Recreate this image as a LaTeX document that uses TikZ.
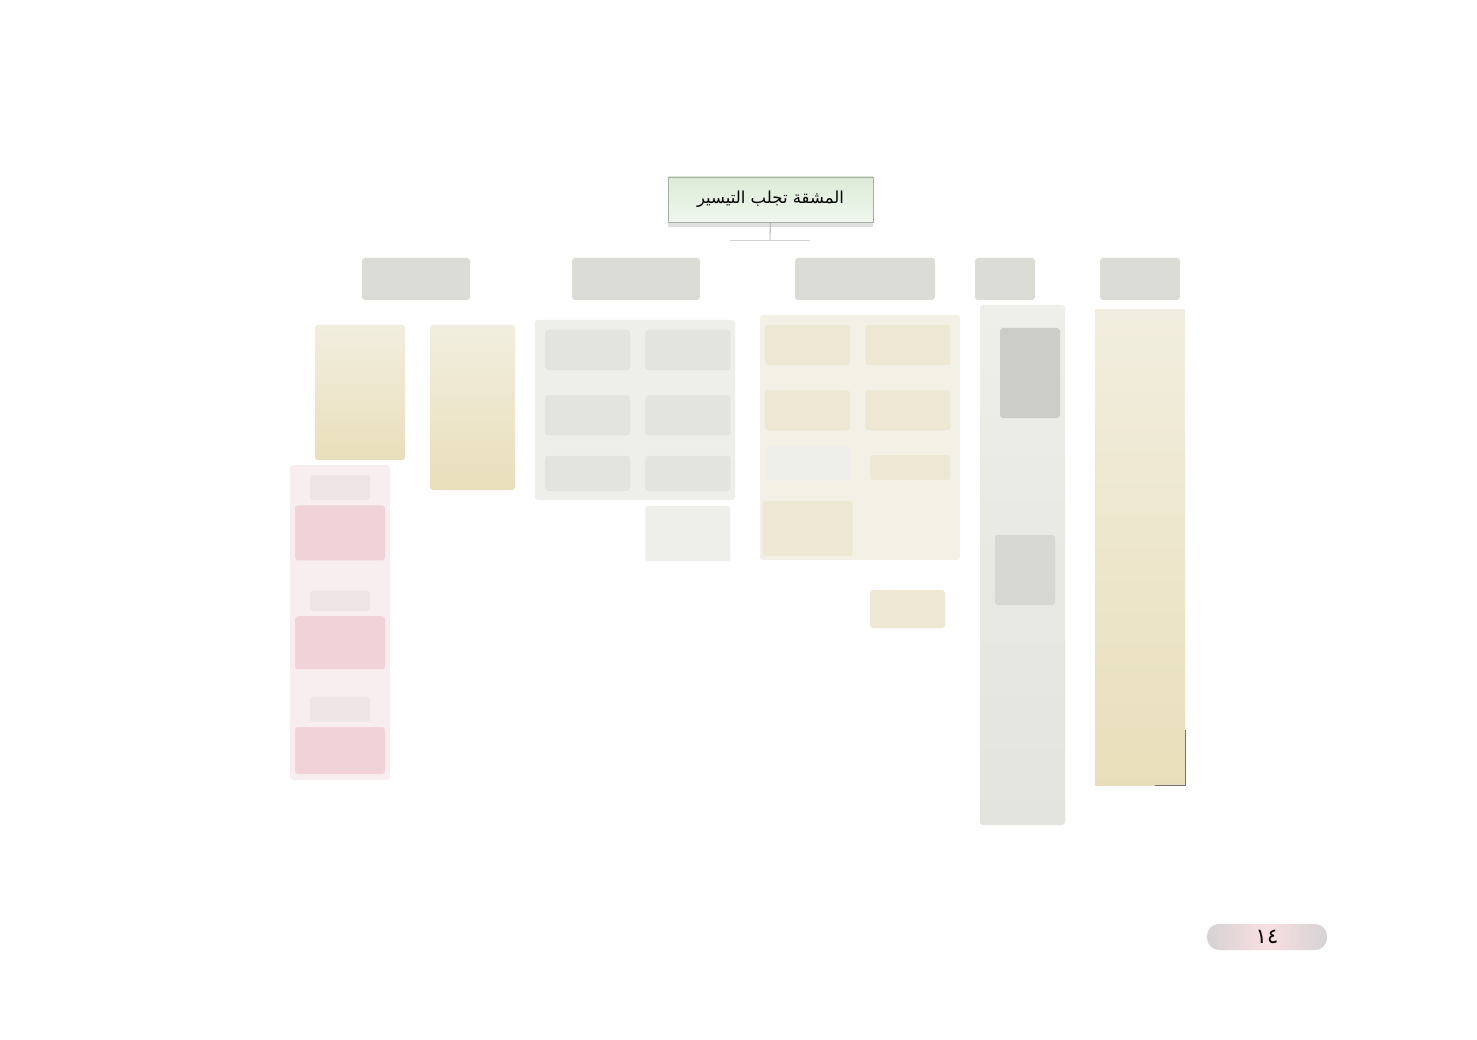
\documentclass[tikz,border=0pt]{standalone}
\usepackage{xcolor}
\usepackage{fontspec}
\usepackage{tikz}
\usetikzlibrary{shapes, positioning, calc, shadows}
\TeXXeTstate=1
\newfontfamily\arabicfont[Script=Arabic]{DejaVu Sans}
\newfontfamily\numfont{DejaVu Sans}
\definecolor{titletop}{HTML}{DCEBD7}
\definecolor{titlebot}{HTML}{F0F7EE}
\definecolor{titleline}{HTML}{A6ADA4}
\definecolor{headgray}{HTML}{DCDCD6}
\definecolor{cellgray}{HTML}{E4E4DE}
\definecolor{backgray}{HTML}{EEEEEA}
\definecolor{cellbeige}{HTML}{EEE7D3}
\definecolor{backbeige}{HTML}{F3F0E6}
\definecolor{yellowtop}{HTML}{F2EEDF}
\definecolor{yellowbot}{HTML}{E8DFBA}
\definecolor{pinkback}{HTML}{F8EEF0}
\definecolor{pinkcell}{HTML}{F1D2D8}
\definecolor{pinklabel}{HTML}{EEE4E6}
\definecolor{darkgray}{HTML}{CDCDC8}
\definecolor{pagepink}{HTML}{F9DFE2}
\definecolor{pageend}{HTML}{D6D2D4}

\begin{document}
\begin{tikzpicture}[
    x = 1pt, y = -1pt,
    box/.style = {
      rectangle, draw = none, inner sep = 0pt, rounded corners = 3pt
    },
    titlebox/.style = {
      rectangle, draw = titleline, inner sep = 0pt, top color = titletop,
      bottom color = titlebot, minimum width = 205pt, minimum height = 45pt,
      drop shadow = {shadow xshift = 0pt, shadow yshift = -5pt, opacity = .25}
    },
    headbox/.style = {
      box, fill = headgray, minimum height = 42pt
    },
    grayfill/.style = {
      box, fill = cellgray, minimum width = 85pt, minimum height = 40pt
    },
    beigefill/.style = {
      box, fill = cellbeige, minimum width = 85pt, minimum height = 40pt
    },
    yellowcol/.style = {
      box, top color = yellowtop, bottom color = yellowbot
    },
    pinkfill/.style = {
      box, fill = pinkcell, minimum width = 90pt
    },
    pinktag/.style = {
      box, fill = pinklabel, minimum width = 60pt
    },
    link/.style = {
      draw = gray!70, thick
    },
    edge/.style = {
      draw = black!55, line width = .8pt
    },
    pagebox/.style = {
      rectangle, rounded corners = 12pt, inner sep = 0pt,
      left color = pageend, right color = pageend, middle color = pagepink,
      minimum width = 120pt, minimum height = 26pt
    },
    ]
\useasboundingbox  [fill = white]  (0,0)  rectangle  (1477,1040);

\node  [titlebox]  (title)  at  (770.5,199.5)  {\fontsize{16.5}{18}\selectfont\arabicfont\beginR المشقة تجلب التيسير\endR};
\coordinate  (t_join)  at  (770,240);
\coordinate  (bar_l)  at  (730,240);
\coordinate  (bar_r)  at  (810,240);
\draw  [link]  (title)  --  (t_join);
\draw  [draw = gray!35, thick]  (bar_l)  --  (bar_r);

\node  [headbox, minimum width = 108pt]  (head_1)  at  (416,279)  {};
\node  [headbox, minimum width = 128pt]  (head_2)  at  (636,279)  {};
\node  [headbox, minimum width = 140pt]  (head_3)  at  (865,279)  {};
\node  [headbox, minimum width = 60pt]  (head_4)  at  (1005,279)  {};
\node  [headbox, minimum width = 80pt]  (head_5)  at  (1140,279)  {};

\node  [yellowcol, minimum width = 90pt, minimum height = 135pt]  (yel_1a)  at  (360,392.5)  {};
\node  [yellowcol, minimum width = 85pt, minimum height = 165pt]  (yel_1b)  at  (472.5,407.5)  {};

\node  [box, fill = pinkback, minimum width = 100pt, minimum height = 315pt]  (pink_back)  at  (340,622.5)  {};
\node  [pinktag, minimum height = 25pt]  (tag_1)  at  (340,487.5)  {};
\node  [pinkfill, minimum height = 55pt]  (pink_1)  [below = 5pt of tag_1]  {};
\node  [pinktag, minimum height = 20pt]  (tag_2)  [below = 30pt of pink_1]  {};
\node  [pinkfill, minimum height = 53pt]  (pink_2)  [below = 5pt of tag_2]  {};
\node  [pinktag, minimum height = 25pt]  (tag_3)  [below = 27pt of pink_2]  {};
\node  [pinkfill, minimum height = 47pt]  (pink_3)  [below = 5pt of tag_3]  {};

\node  [box, fill = backgray, minimum width = 200pt, minimum height = 180pt]  (gray_back)  at  (635,410)  {};
\node  [grayfill]  (g_11)  at  (587.5,350)  {};
\node  [grayfill]  (g_12)  [right = 15pt of g_11]  {};
\node  [grayfill]  (g_21)  [below = 25pt of g_11]  {};
\node  [grayfill]  (g_22)  [right = 15pt of g_21]  {};
\node  [grayfill, minimum height = 35pt]  (g_31)  [below = 20pt of g_21]  {};
\node  [grayfill, minimum height = 35pt]  (g_32)  [right = 15pt of g_31]  {};
\node  [box, fill = backgray, minimum width = 85pt, minimum height = 55pt]  (g_4)  [below = 15pt of g_32]  {};

\node  [box, fill = backbeige, minimum width = 200pt, minimum height = 245pt]  (beige_back)  at  (860,437.5)  {};
\node  [beigefill]  (b_11)  at  (807.5,345)  {};
\node  [beigefill]  (b_12)  [right = 15pt of b_11]  {};
\node  [beigefill]  (b_21)  [below = 25pt of b_11]  {};
\node  [beigefill]  (b_22)  [right = 15pt of b_21]  {};
\node  [box, fill = backgray, minimum width = 85pt, minimum height = 35pt]  (b_31)  [below = 15pt of b_21]  {};
\node  [beigefill, minimum width = 80pt, minimum height = 25pt]  (b_32)  at  (910,467.5)  {};
\node  [beigefill, minimum width = 90pt, minimum height = 55pt]  (b_4)  [below = 20pt of b_31]  {};
\node  [beigefill, minimum width = 75pt, minimum height = 38pt]  (b_5)  at  (907.5,609)  {};

\node  [box, top color = backgray, bottom color = cellgray, minimum width = 85pt, minimum height = 520pt]  (gray_col)  at  (1022.5,565)  {};
\node  [box, fill = darkgray, minimum width = 60pt, minimum height = 90pt]  (dark_1)  at  (1030,373)  {};
\node  [box, fill = darkgray!80, minimum width = 60pt, minimum height = 70pt]  (dark_2)  at  (1025,570)  {};

\node  [yellowcol, rounded corners = 0pt, minimum width = 90pt, minimum height = 475pt]  (yel_col)  at  (1140,547.5)  {};
\draw  [edge]  ([xshift = -30pt]yel_col.south east)  --  (yel_col.south east)  --  ([yshift = 55pt]yel_col.south east);

% page number
\node  [pagebox]  (page)  at  (1267,937)  {\fontsize{21}{22}\selectfont\numfont ١٤};
\end{tikzpicture}
\end{document}
